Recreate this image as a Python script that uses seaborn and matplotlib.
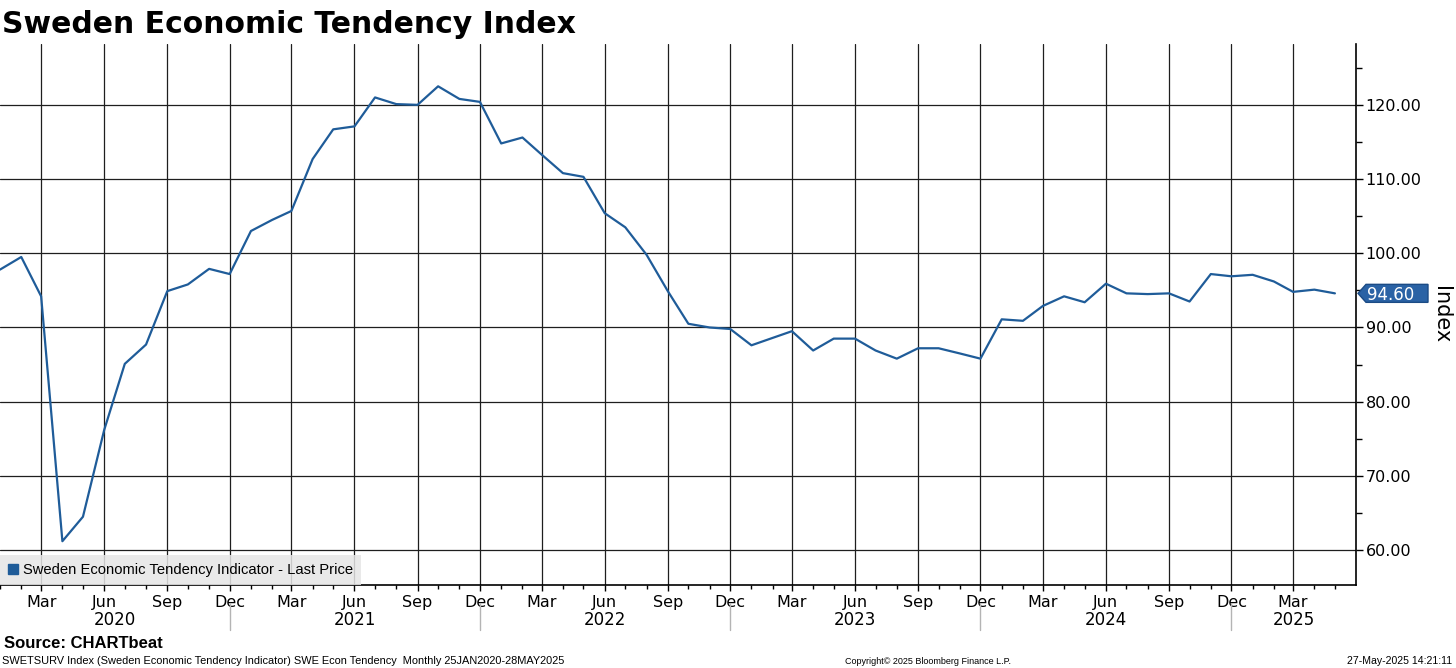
import matplotlib
matplotlib.use("Agg")
import matplotlib.pyplot as plt
import matplotlib.dates as mdates
import matplotlib.transforms as mtransforms
from matplotlib.lines import Line2D
from matplotlib.patches import Polygon
from matplotlib.ticker import MultipleLocator, FormatStrFormatter
import pandas as pd
import seaborn as sns

# monthly readings, Jan 2020 .. May 2025
values = [
    97.8, 99.5, 94.2, 61.2, 64.5, 76.2, 85.1, 87.7, 94.9, 95.8, 97.9, 97.2,
    103.0, 104.5, 105.7, 112.7, 116.7, 117.1, 121.0, 120.1, 120.0, 122.5, 120.8, 120.4,
    114.8, 115.6, 113.3, 110.8, 110.3, 105.4, 103.5, 99.8, 94.9, 90.5, 90.0, 89.8,
    87.6, 88.6, 89.5, 86.9, 88.5, 88.5, 86.9, 85.8, 87.2, 87.2, 86.5, 85.8,
    91.1, 90.9, 92.9, 94.2, 93.4, 95.9, 94.6, 94.5, 94.6, 93.5, 97.2, 96.9,
    97.1, 96.2, 94.8, 95.1, 94.6,
]
start_month = "2020-01-01"
years = [2020, 2021, 2022, 2023, 2024, 2025]
series_label = "Sweden Economic Tendency Indicator - Last Price"
title = "Sweden Economic Tendency Index"
last_label = "94.60"

LINE = "#1f5c99"
TAG = "#2a62a5"

df = pd.DataFrame({
    "date": pd.date_range(start_month, periods=len(values), freq="MS"),
    "value": values,
})

sns.set_theme(style="white")
plt.rcParams["font.family"] = ["DejaVu Sans"]
plt.rcParams.update({"text.color": "black", "axes.labelcolor": "black",
                     "xtick.color": "black", "ytick.color": "black"})
NARROW = ["Liberation Sans", "DejaVu Sans"]

W, H = 1456, 668
fig = plt.figure(figsize=(W / 100, H / 100), dpi=100)
ax = fig.add_axes([0, 1 - 585 / H, 1356 / W, (585 - 44) / H])

sns.lineplot(data=df, x="date", y="value", ax=ax, color=LINE, lw=1.6)

x0 = pd.Timestamp("2020-01-01")
x1 = pd.Timestamp("2025-05-31 18:00")
ax.set_xlim(x0, x1)
ax.set_ylim(55.3, 128.2)

# grid + spines
ax.grid(True, which="major", color="#1e1e1e", lw=0.9)
for s in ["top", "left"]:
    ax.spines[s].set_visible(False)
for s in ["right", "bottom"]:
    ax.spines[s].set_color("black")
    ax.spines[s].set_linewidth(1.2)

# y axis on the right
ax.yaxis.tick_right()
ax.yaxis.set_label_position("right")
ax.yaxis.set_major_locator(MultipleLocator(10))
ax.yaxis.set_minor_locator(MultipleLocator(5))
ax.yaxis.set_major_formatter(FormatStrFormatter("%.2f"))
ax.tick_params(axis="y", which="both", left=False, right=True, direction="out",
               colors="black", width=1)
ax.tick_params(axis="y", which="major", length=5, labelsize=11.5, pad=2)
ax.tick_params(axis="y", which="minor", length=4)
ax.set_ylabel("Index", rotation=270, fontsize=15, ha="center", va="center")
ax.yaxis.set_label_coords(1.0625, 0.5)

# x axis: months with quarterly labels
ax.xaxis.set_major_locator(mdates.MonthLocator(bymonth=[3, 6, 9, 12]))
ax.xaxis.set_major_formatter(mdates.DateFormatter("%b"))
ax.xaxis.set_minor_locator(mdates.MonthLocator())
ax.tick_params(axis="x", which="both", bottom=True, direction="out", colors="black", width=1)
ax.tick_params(axis="x", which="major", length=4, labelsize=11.5, pad=3)
ax.tick_params(axis="x", which="minor", length=3)
ax.set_xlabel("")

# year row with separators at December
trans = mtransforms.blended_transform_factory(ax.transData, ax.transAxes)
bounds = [x0] + [pd.Timestamp(f"{y}-12-01") for y in years[:-1]] + [x1]
for i, yr in enumerate(years):
    mid = bounds[i] + (bounds[i + 1] - bounds[i]) / 2
    ax.text(mdates.date2num(mid), -0.065, str(yr), transform=trans,
            ha="center", va="center", fontsize=12, color="black")
for b in bounds[1:-1]:
    bx = mdates.date2num(b)
    ax.plot([bx, bx], [-0.033, -0.083], transform=trans, color="#b4b4b4",
            lw=1, clip_on=False)

# legend box
handle = Line2D([], [], marker="s", linestyle="none", color=LINE, markersize=7.5)
leg = ax.legend([handle], [series_label], loc="lower left", bbox_to_anchor=(0, 0),
                borderaxespad=0, frameon=True, fancybox=False, facecolor="#e6e6e6",
                edgecolor="none", framealpha=0.85, handlelength=0.7,
                handletextpad=0.3, borderpad=0.55, prop={"family": NARROW, "size": 10.6})

# last-value tag on the right axis
xr = ax.transAxes.transform((1, 0))[0]
_, yp = ax.transData.transform((mdates.date2num(df["date"].iloc[-1]), df["value"].iloc[-1]))
pts = [(xr + 2, yp), (xr + 10, yp + 9), (xr + 72, yp + 9), (xr + 72, yp - 9), (xr + 10, yp - 9)]
fig.add_artist(Polygon(pts, closed=True, facecolor=TAG, edgecolor="#1b4b85", lw=1,
                       transform=mtransforms.IdentityTransform()))
fig.text(xr + 35, yp, last_label, transform=mtransforms.IdentityTransform(),
         ha="center", va="center_baseline", color="white", fontsize=12)

# title and footer
fig.text(2 / W, 1 - 33 / H, title, fontsize=21.5, fontweight="bold", va="baseline",
         color="black")
fig.text(4 / W, 1 - 648 / H, "Source: CHARTbeat", family=NARROW, fontweight="bold",
         fontsize=12, va="baseline")
foot_y = 1 - 664 / H
fig.text(2 / W, foot_y,
         "SWETSURV Index (Sweden Economic Tendency Indicator) SWE Econ Tendency  Monthly 25JAN2020-28MAY2025",
         family=NARROW, fontsize=7.9, va="baseline")
fig.text(928 / W, foot_y, "Copyright\u00a9 2025 Bloomberg Finance L.P.", family=NARROW,
         fontsize=6.5, ha="center", va="baseline")
fig.text(1452 / W, foot_y, "27-May-2025 14:21:11", family=NARROW, fontsize=7.6,
         ha="right", va="baseline")

fig.savefig("out.png", dpi=100)
plt.close(fig)
